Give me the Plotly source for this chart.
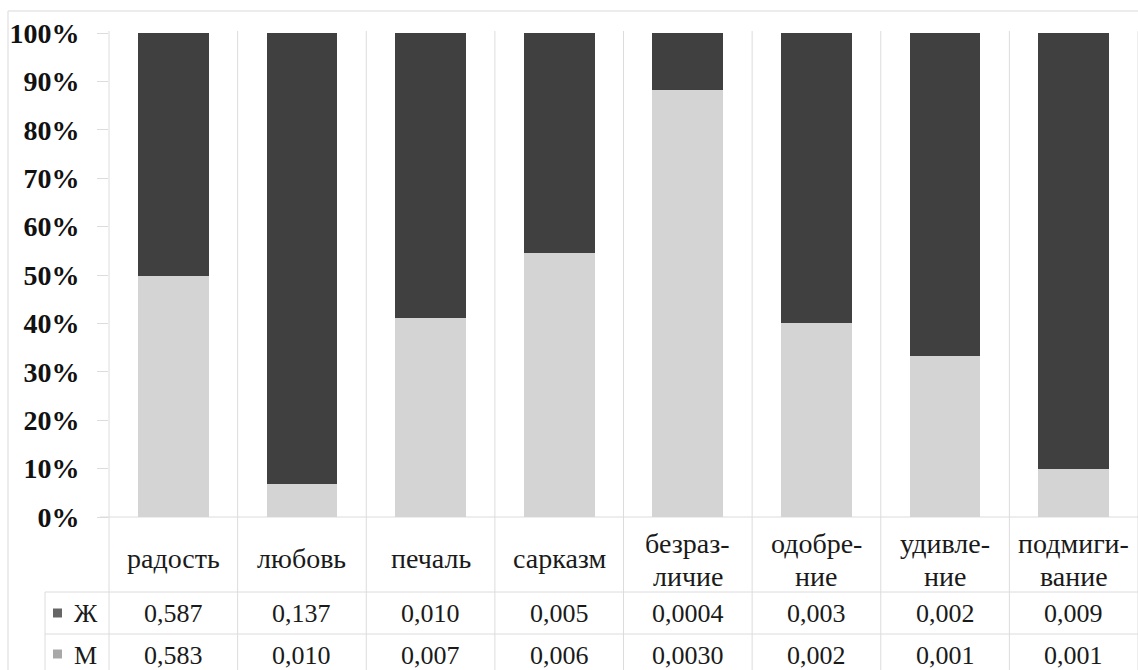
import plotly.graph_objects as go

# Emotion categories and per-gender frequencies
categories = ["радость", "любовь", "печаль", "сарказм", "безразличие",
              "одобрение", "удивление", "подмигивание"]
category_lines = [["радость"], ["любовь"], ["печаль"], ["сарказм"],
                  ["безраз-", "личие"], ["одобре-", "ние"],
                  ["удивле-", "ние"], ["подмиги-", "вание"]]
female = [0.587, 0.137, 0.010, 0.005, 0.0004, 0.003, 0.002, 0.009]
male = [0.583, 0.010, 0.007, 0.006, 0.0030, 0.002, 0.001, 0.001]
female_text = ["0,587", "0,137", "0,010", "0,005", "0,0004", "0,003", "0,002", "0,009"]
male_text = ["0,583", "0,010", "0,007", "0,006", "0,0030", "0,002", "0,001", "0,001"]
tick_vals = [0, 10, 20, 30, 40, 50, 60, 70, 80, 90, 100]
tick_text = [f"{v}%" for v in tick_vals]

W, H = 1138, 670
L, R, T, B = 109, 1138, 33, 517
SERIF = "Times New Roman"
GRID = "#dcdcdc"
DARK = "#404040"
LIGHT = "#d4d4d4"
TXT = "#1a1a1a"


def px(x):
    return (x - L) / (R - L)


def py(y):
    return (B - y) / (B - T)


fig = go.Figure()
fig.add_trace(go.Bar(x=categories, y=male, name="М", marker_color=LIGHT,
                     marker_line_width=0))
fig.add_trace(go.Bar(x=categories, y=female, name="Ж", marker_color=DARK,
                     marker_line_width=0))

shapes = []


def line(x0, y0, x1, y1, color=GRID, width=1):
    shapes.append(dict(type="line", xref="paper", yref="paper",
                       x0=px(x0), y0=py(y0), x1=px(x1), y1=py(y1),
                       line=dict(color=color, width=width), layer="below"))


# outer chart border
line(8, 11, W, 11, "#e6e6e6", 1.5)
line(8, 11, 8, H, "#e6e6e6", 1.5)
# category separators running through plot and data table
n = len(categories)
for i in range(n + 1):
    xs = L + (R - L) * i / n
    line(xs, 31, xs, H)
# zero line and table rows
line(100, B, W, B)
line(45, 592, W, 592)
line(45, 634, W, 634)
line(45, 592, 45, H)

# legend keys in the table
for yc, col in [(613, "#666666"), (654, "#a8a8a8")]:
    shapes.append(dict(type="rect", xref="paper", yref="paper",
                       x0=px(53), x1=px(62), y0=py(yc - 4.5), y1=py(yc + 4.5),
                       fillcolor=col, line_width=0))

annotations = []


def text(x, xref, y, s, size, xanchor="center"):
    annotations.append(dict(x=x, xref=xref, y=py(y), yref="paper", text=s,
                            showarrow=False, xanchor=xanchor, yanchor="middle",
                            font=dict(family=SERIF, size=size, color=TXT)))


for cat, lines, ft, mt in zip(categories, category_lines, female_text, male_text):
    if len(lines) == 1:
        text(cat, "x", 558, lines[0], 28)
    else:
        text(cat, "x", 543, lines[0], 28)
        text(cat, "x", 576, lines[1], 28)
    text(cat, "x", 613, ft, 26)
    text(cat, "x", 655, mt, 26)
text(px(72), "paper", 613, "Ж", 26, "left")
text(px(72), "paper", 655, "М", 26, "left")

fig.update_layout(
    width=W, height=H,
    margin=dict(l=L, r=W - R, t=T, b=H - B),
    barmode="stack", barnorm="percent", bargap=0.45,
    plot_bgcolor="white", paper_bgcolor="white",
    showlegend=False,
    font=dict(family="serif", color=TXT),
    shapes=shapes, annotations=annotations,
    xaxis=dict(showticklabels=False, showgrid=False, zeroline=False,
               showline=False, ticks="", fixedrange=True),
    yaxis=dict(range=[0, 100], tickvals=tick_vals, ticktext=tick_text,
               showgrid=False, zeroline=False, showline=False,
               ticks="outside", ticklen=11, tickcolor=GRID, tickwidth=1,
               ticklabelstandoff=12,
               tickfont=dict(family="serif", size=28, color="#111111",
                             weight="bold"),
               fixedrange=True),
)

fig.write_html("out.html")
